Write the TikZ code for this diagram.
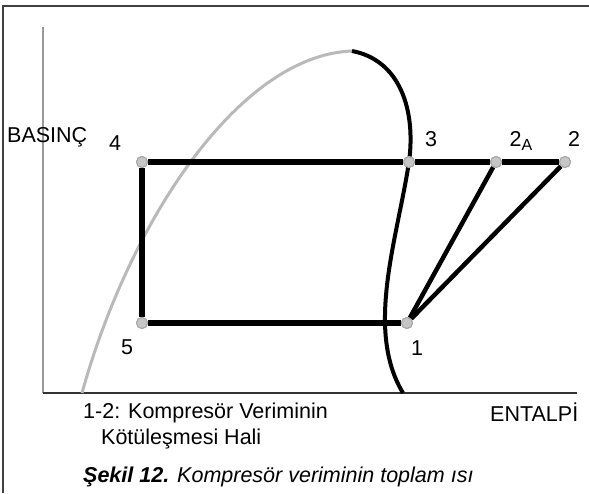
\documentclass[tikz,border=0pt]{standalone}
\usepackage{fontspec}
\setmainfont{Liberation Sans}
\usetikzlibrary{calc}

\tikzset{
  state/.style={circle, draw=gray!70, fill=gray!45, line width=1pt, minimum size=11pt, inner sep=0pt},
  cycleline/.style={line width=5.5pt, black},
  ptlabel/.style={font=\fontsize{21.5}{25}\selectfont, inner sep=0pt},
  axistext/.style={font=\fontsize{21.5}{25}\selectfont, inner sep=0pt, anchor=west},
}

\begin{document}
\begin{tikzpicture}[x=1pt, y=-1pt]

\useasboundingbox (0,0) rectangle (589,493);

% --- FRAME AND AXES ---
\draw[line width=2pt, black!75] (3,493) -- (3,6) -- (589,6);
\coordinate (O) at (43,393);
\coordinate (ytop) at (43,27);
\coordinate (xend) at (577,393);
\draw[line width=2pt, gray!80] (O) -- (ytop);
\draw[line width=2.5pt, black!80] (O) -- (xend);

% --- SATURATION DOME ---
\coordinate (dl) at (82,393);
\coordinate (peak) at (352,51);
\coordinate (dr) at (403,393);
\draw[line width=3pt, gray!55] (dl) .. controls (130,220) and (240,55) .. (peak);
\draw[line width=4pt, black] (peak) .. controls (400,60) and (416,110) .. (409,162)
    .. controls (397,240) and (365,330) .. (dr);

% --- CYCLE STATES ---
\node[state] (p4)  at (142,162) {};
\node[state] (p3)  at (409,162) {};
\node[state] (p2a) at (496,162) {};
\node[state] (p2)  at (565,162) {};
\node[state] (p5)  at (142,323) {};
\node[state] (p1)  at (407,323) {};

% Cycle lines
\draw[cycleline] (p4) -- (p3) -- (p2a) -- (p2);
\draw[cycleline] (p4) -- (p5) -- (p1);
\draw[cycleline, line width=4.5pt] (p1) -- (p2a);
\draw[cycleline, line width=4.5pt] (p1) -- (p2);

% redraw states on top
\foreach \p in {p4,p3,p2a,p2,p5,p1}
    \node[state] at (\p) {};

% --- LABELS ---
\node[ptlabel] (l4)  at (115,143) {4};
\node[ptlabel] (l3)  at (431,139) {3};
\node[ptlabel] (l2a) at (521,141) {2\raisebox{-0.35ex}{\fontsize{16}{18}\selectfont A}};
\node[ptlabel] (l2)  at (574,139) {2};
\node[ptlabel] (l5)  at (127,347) {5};
\node[ptlabel] (l1)  at (417,348) {1};

\node[axistext] (yname) at (7,137) {BASINÇ};
\node[axistext] (xname) at (490,412) {ENTALPİ};
\node[axistext] (note1) at (83,413) {1-2: Kompresör Veriminin};
\node[axistext] (note2) at (101,439) {Kötüleşmesi Hali};
\node[axistext] (caption) at (83,477) {\itshape\textbf{Şekil 12.} Kompresör veriminin toplam ısı};

\end{tikzpicture}
\end{document}
